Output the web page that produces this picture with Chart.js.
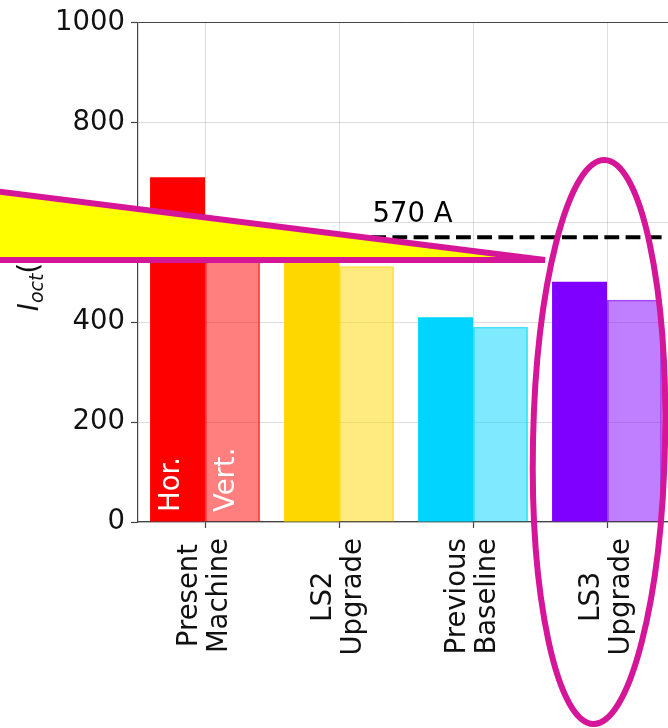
<!DOCTYPE html>
<html>
<head>
<meta charset="utf-8">
<script src="https://cdn.jsdelivr.net/npm/chart.js@4.4.1/dist/chart.umd.min.js"></script>
<style>
  html, body { margin: 0; padding: 0; background: #fff; overflow: hidden; width: 668px; height: 728px; }
  #wrap { width: 668px; height: 728px; overflow: hidden; position: relative; }
  canvas { display: block; }
</style>
</head>
<body>
<div id="wrap"><canvas id="c" width="690" height="728"></canvas></div>
<script>
// Octupole current per machine configuration, horizontal and vertical plane
const categories = [['Present', 'Machine'], ['LS2', 'Upgrade'], ['Previous', 'Baseline'], ['LS3', 'Upgrade']];
const horValues = [690, 540, 410, 481];
const vertValues = [560, 512, 391, 445];
const yTicks = [0, 200, 400, 600, 800, 1000];
const limitValue = 570;
const limitLabel = '570 A';
const planeLabels = ['Hor.', 'Vert.'];

// base colour of each configuration; vertical bars use a half-transparent tint
const baseColors = [[255, 0, 0], [255, 215, 0], [0, 212, 255], [127, 0, 255]];
const rgba = (c, a) => `rgba(${c[0]},${c[1]},${c[2]},${a})`;
const horFill = baseColors.map(c => rgba(c, 1));
const vertFill = baseColors.map(c => rgba(c, 0.5));
const vertEdge = baseColors.map(c => rgba(c, 0.72));

const FONT = '"DejaVu Sans", "Liberation Sans", sans-serif';
const FS = 27.5;
const MAGENTA = 'rgb(214,22,152)';

Chart.defaults.font.family = FONT;
Chart.defaults.font.size = FS;

const overlay = {
  id: 'overlay',
  afterDraw(chart) {
    const { ctx, chartArea: a, scales: { x, y } } = chart;
    ctx.save();

    // limit line
    const yl = y.getPixelForValue(limitValue);
    ctx.beginPath();
    ctx.setLineDash([14.8, 6.4]);
    ctx.lineWidth = 4;
    ctx.strokeStyle = '#000';
    ctx.moveTo(a.left, yl);
    ctx.lineTo(a.right, yl);
    ctx.stroke();
    ctx.setLineDash([]);

    ctx.fillStyle = '#000';
    ctx.font = `${FS}px ${FONT}`;
    ctx.textAlign = 'left';
    ctx.textBaseline = 'alphabetic';
    ctx.fillText(limitLabel, x.getPixelForValue(1.25), y.getPixelForValue(600));

    // plane labels inside the first pair of bars
    const y0 = y.getPixelForValue(0);
    [0, 1].forEach(di => {
      const bar = chart.getDatasetMeta(di).data[0];
      ctx.save();
      ctx.translate(bar.x - 6, y0 - 10);
      ctx.rotate(-Math.PI / 2);
      ctx.fillStyle = '#fff';
      ctx.textAlign = 'left';
      ctx.textBaseline = 'middle';
      ctx.fillText(planeLabels[di], 0, 0);
      ctx.restore();
    });

    // category labels, rotated, lines centred on each other
    ctx.fillStyle = '#111';
    categories.forEach((lines, i) => {
      const px = x.getPixelForValue(i);
      const maxW = Math.max(...lines.map(l => ctx.measureText(l).width));
      const top = y0 + 16;
      ctx.save();
      ctx.translate(px, top + maxW / 2);
      ctx.rotate(-Math.PI / 2);
      ctx.textAlign = 'center';
      ctx.textBaseline = 'alphabetic';
      lines.forEach((l, k) => ctx.fillText(l, 0, -8 + k * 30));
      ctx.restore();
    });

    // y-axis title: I_oct(A)
    const fMain = `italic ${FS}px ${FONT}`;
    const fSub = `italic 19px ${FONT}`;
    const fReg = `${FS}px ${FONT}`;
    ctx.font = fMain; const wI = ctx.measureText('I').width;
    ctx.font = fSub; const wS = ctx.measureText('oct').width;
    ctx.font = fReg; const wR = ctx.measureText('(A)').width;
    const total = wI + wS + wR;
    ctx.save();
    ctx.translate(38, (a.top + a.bottom) / 2);
    ctx.rotate(-Math.PI / 2);
    ctx.textAlign = 'left';
    ctx.textBaseline = 'alphabetic';
    ctx.fillStyle = '#111';
    let u = -total / 2;
    ctx.font = fMain; ctx.fillText('I', u, 0); u += wI;
    ctx.font = fSub; ctx.fillText('oct', u, 5); u += wS;
    ctx.font = fReg; ctx.fillText('(A)', u, 0);
    ctx.restore();

    // pointer triangle
    ctx.beginPath();
    ctx.moveTo(-30, 188);
    ctx.lineTo(545, 260);
    ctx.lineTo(-30, 260);
    ctx.closePath();
    ctx.fillStyle = '#ffff00';
    ctx.fill();
    ctx.lineWidth = 6;
    ctx.lineJoin = 'bevel';
    ctx.strokeStyle = MAGENTA;
    ctx.stroke();

    // highlight ring around the last configuration
    ctx.beginPath();
    ctx.ellipse(599, 442, 66, 282, 0.02, 0, Math.PI * 2);
    ctx.lineWidth = 6;
    ctx.strokeStyle = MAGENTA;
    ctx.stroke();

    ctx.restore();
  }
};

new Chart(document.getElementById('c'), {
  type: 'bar',
  data: {
    labels: categories,
    datasets: [
      { label: planeLabels[0], data: horValues, backgroundColor: horFill, borderWidth: 0,
        categoryPercentage: 0.82, barPercentage: 1 },
      { label: planeLabels[1], data: vertValues, backgroundColor: vertFill, borderColor: vertEdge,
        borderWidth: { top: 2, left: 2, right: 2, bottom: 0 }, categoryPercentage: 0.82, barPercentage: 1 }
    ]
  },
  options: {
    responsive: false,
    animation: false,
    devicePixelRatio: 1,
    layout: { padding: { top: 19, left: 0, right: 16, bottom: 0 } },
    plugins: { legend: { display: false }, tooltip: { enabled: false } },
    scales: {
      x: {
        z: 1,
        grid: { offset: false, color: 'rgba(0,0,0,0.13)', lineWidth: 1, tickLength: 6, tickColor: '#444', tickWidth: 1.2 },
        border: { color: '#444', width: 1.2 },
        ticks: { display: false },
        afterFit(s) { s.height = 206; }
      },
      y: {
        z: 1,
        min: yTicks[0],
        max: yTicks[yTicks.length - 1],
        ticks: {
          stepSize: yTicks[1] - yTicks[0], color: '#111', padding: 6, font: { size: FS },
          callback: v => String(v)
        },
        grid: {
          color: c => (c.tick && c.tick.value === yTicks[yTicks.length - 1]) ? '#444' : 'rgba(0,0,0,0.13)',
          tickLength: 7, tickColor: '#444', tickWidth: 1.2
        },
        border: { color: '#444', width: 1.2 },
        afterFit(s) { s.width = 138; }
      }
    }
  },
  plugins: [overlay]
});
</script>
</body>
</html>
